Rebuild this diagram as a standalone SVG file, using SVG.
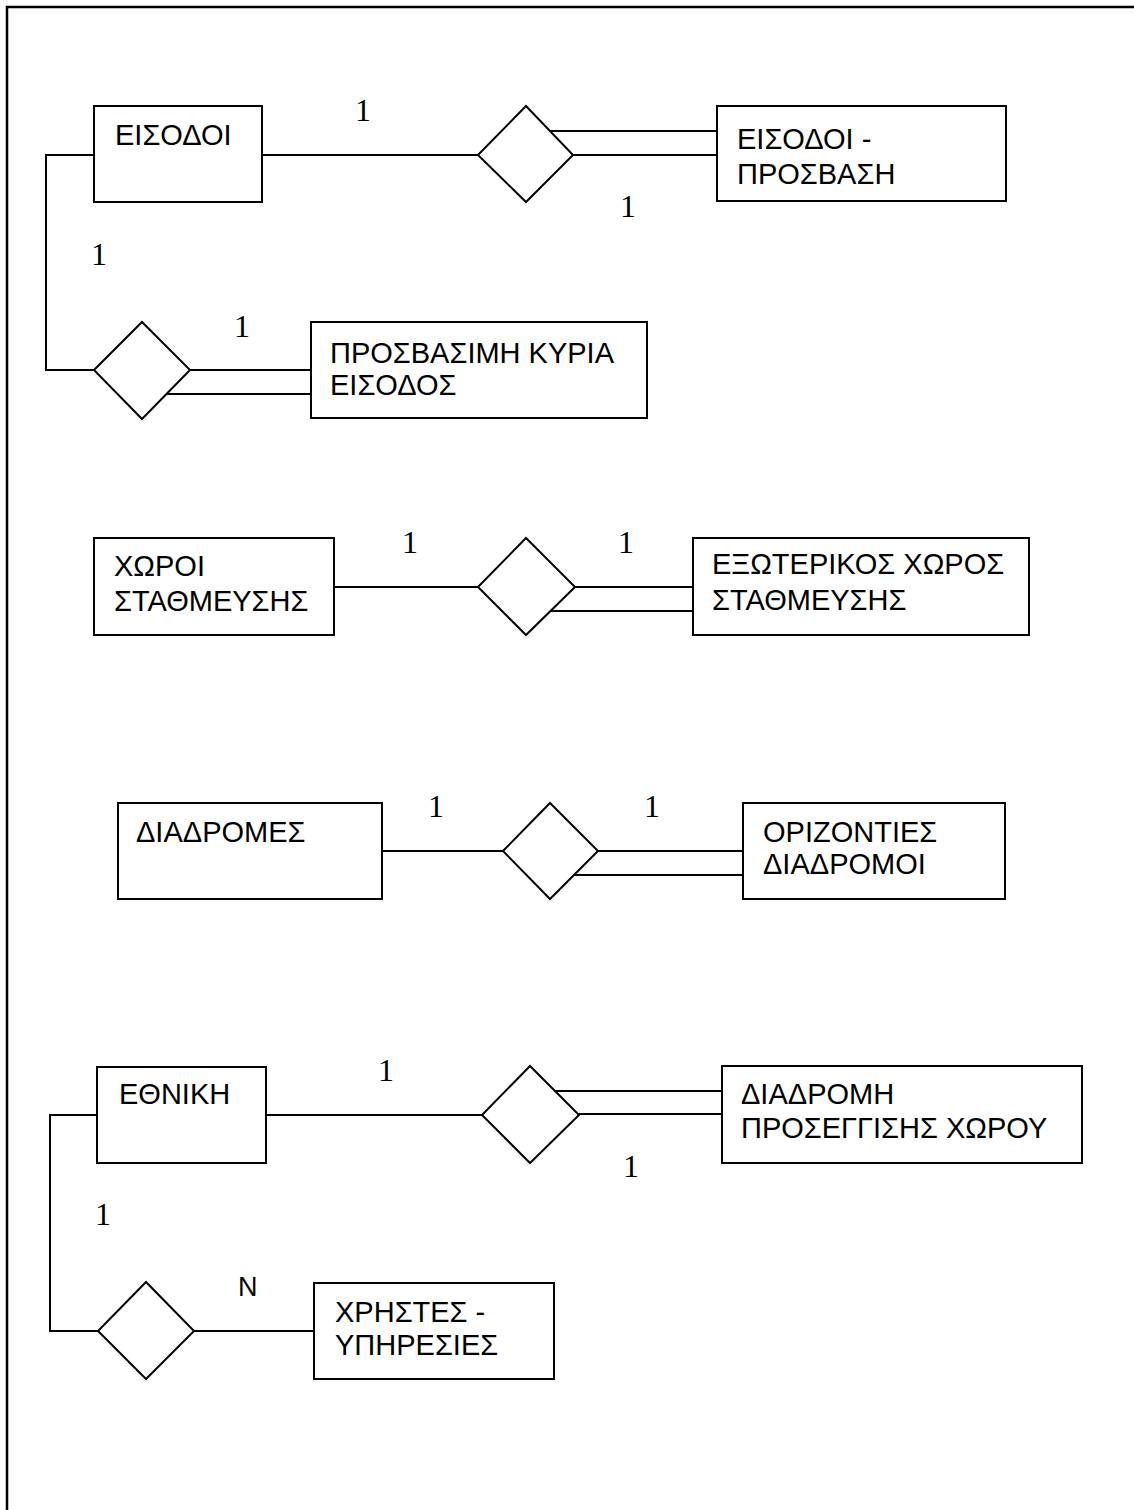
<svg xmlns="http://www.w3.org/2000/svg" width="1134" height="1510" viewBox="0 0 1134 1510">
<style>
.box{fill:#fff;stroke:#000;stroke-width:2}
.dia{fill:#fff;stroke:#000;stroke-width:2}
.ln{fill:none;stroke:#000;stroke-width:2}
.t{font-family:"Liberation Sans",Arial,sans-serif;font-size:29px;fill:#000}
.c{font-family:"Liberation Serif","Times New Roman",serif;font-size:32px;fill:#000}
.cs{font-family:"Liberation Sans",Arial,sans-serif;font-size:27px;fill:#000}
</style>
<rect width="1134" height="1510" fill="#fff"/>
<path d="M7,1510 V7 H1134" fill="none" stroke="#000" stroke-width="2.5"/>
<g id="connectors">
<path class="ln" d="M262,155 H478"/>
<path class="ln" d="M550,131 H717 M573,155 H717"/>
<path class="ln" d="M94,155 H46 V370 H94"/>
<path class="ln" d="M169,370 H314 M167,394 H311"/>
<path class="ln" d="M334,587 H478"/>
<path class="ln" d="M575,587 H693 M550,611 H693"/>
<path class="ln" d="M382,851 H503"/>
<path class="ln" d="M598,851 H743 M575,875 H743"/>
<path class="ln" d="M266,1115 H482"/>
<path class="ln" d="M555,1091 H722 M578,1114 H722"/>
<path class="ln" d="M97,1115 H50 V1331 H98"/>
<path class="ln" d="M194,1331 H314"/>
</g>
<g id="labels">
<text class="c" x="355" y="121">1</text>
<text class="c" x="620" y="217">1</text>
<text class="c" x="91" y="265">1</text>
<text class="c" x="234" y="337">1</text>
<text class="c" x="402" y="553">1</text>
<text class="c" x="618" y="553">1</text>
<text class="c" x="428" y="817">1</text>
<text class="c" x="644" y="817">1</text>
<text class="c" x="378" y="1081">1</text>
<text class="c" x="623" y="1177">1</text>
<text class="c" x="95" y="1225">1</text>
<text class="cs" x="238" y="1296">N</text>
</g>
<g id="n_eisodoi"><rect class="box" x="94" y="106" width="168" height="96"/><text class="t" x="115" y="145">ΕΙΣΟΔΟΙ</text></g>
<g id="r1"><polygon class="dia" points="478,155 526,106 573,155 526,202"/></g>
<g id="n_eisodoi_prosvasi"><rect class="box" x="717" y="106" width="289" height="95"/><text class="t" x="737" y="149">ΕΙΣΟΔΟΙ -</text><text class="t" x="737" y="184">ΠΡΟΣΒΑΣΗ</text></g>
<g id="r2"><polygon class="dia" points="94,370 142,322 190,370 142,419"/></g>
<g id="n_prosvasimi"><rect class="box" x="311" y="322" width="336" height="96"/><text class="t" x="330" y="363">ΠΡΟΣΒΑΣΙΜΗ ΚΥΡΙΑ</text><text class="t" x="330" y="395">ΕΙΣΟΔΟΣ</text></g>
<g id="n_xoroi"><rect class="box" x="94" y="538" width="240" height="97"/><text class="t" x="114" y="576">ΧΩΡΟΙ</text><text class="t" x="114" y="611">ΣΤΑΘΜΕΥΣΗΣ</text></g>
<g id="r3"><polygon class="dia" points="478,587 526,538 575,587 526,635"/></g>
<g id="n_exoterikos"><rect class="box" x="693" y="538" width="336" height="97"/><text class="t" x="712" y="574">ΕΞΩΤΕΡΙΚΟΣ ΧΩΡΟΣ</text><text class="t" x="712" y="610">ΣΤΑΘΜΕΥΣΗΣ</text></g>
<g id="n_diadromes"><rect class="box" x="118" y="803" width="264" height="96"/><text class="t" x="136" y="842">ΔΙΑΔΡΟΜΕΣ</text></g>
<g id="r4"><polygon class="dia" points="503,851 550,803 598,851 550,899"/></g>
<g id="n_orizonties"><rect class="box" x="743" y="803" width="262" height="96"/><text class="t" x="763" y="842">ΟΡΙΖΟΝΤΙΕΣ</text><text class="t" x="763" y="874">ΔΙΑΔΡΟΜΟΙ</text></g>
<g id="n_ethniki"><rect class="box" x="97" y="1067" width="169" height="96"/><text class="t" x="119" y="1104">ΕΘΝΙΚΗ</text></g>
<g id="r5"><polygon class="dia" points="482,1115 530,1066 579,1115 530,1163"/></g>
<g id="n_diadromi"><rect class="box" x="722" y="1066" width="360" height="97"/><text class="t" x="741" y="1104">ΔΙΑΔΡΟΜΗ</text><text class="t" x="741" y="1138">ΠΡΟΣΕΓΓΙΣΗΣ ΧΩΡΟΥ</text></g>
<g id="r6"><polygon class="dia" points="98,1331 146,1282 194,1331 146,1379"/></g>
<g id="n_xristes"><rect class="box" x="314" y="1283" width="240" height="96"/><text class="t" x="335" y="1322">ΧΡΗΣΤΕΣ -</text><text class="t" x="335" y="1355">ΥΠΗΡΕΣΙΕΣ</text></g>
</svg>
